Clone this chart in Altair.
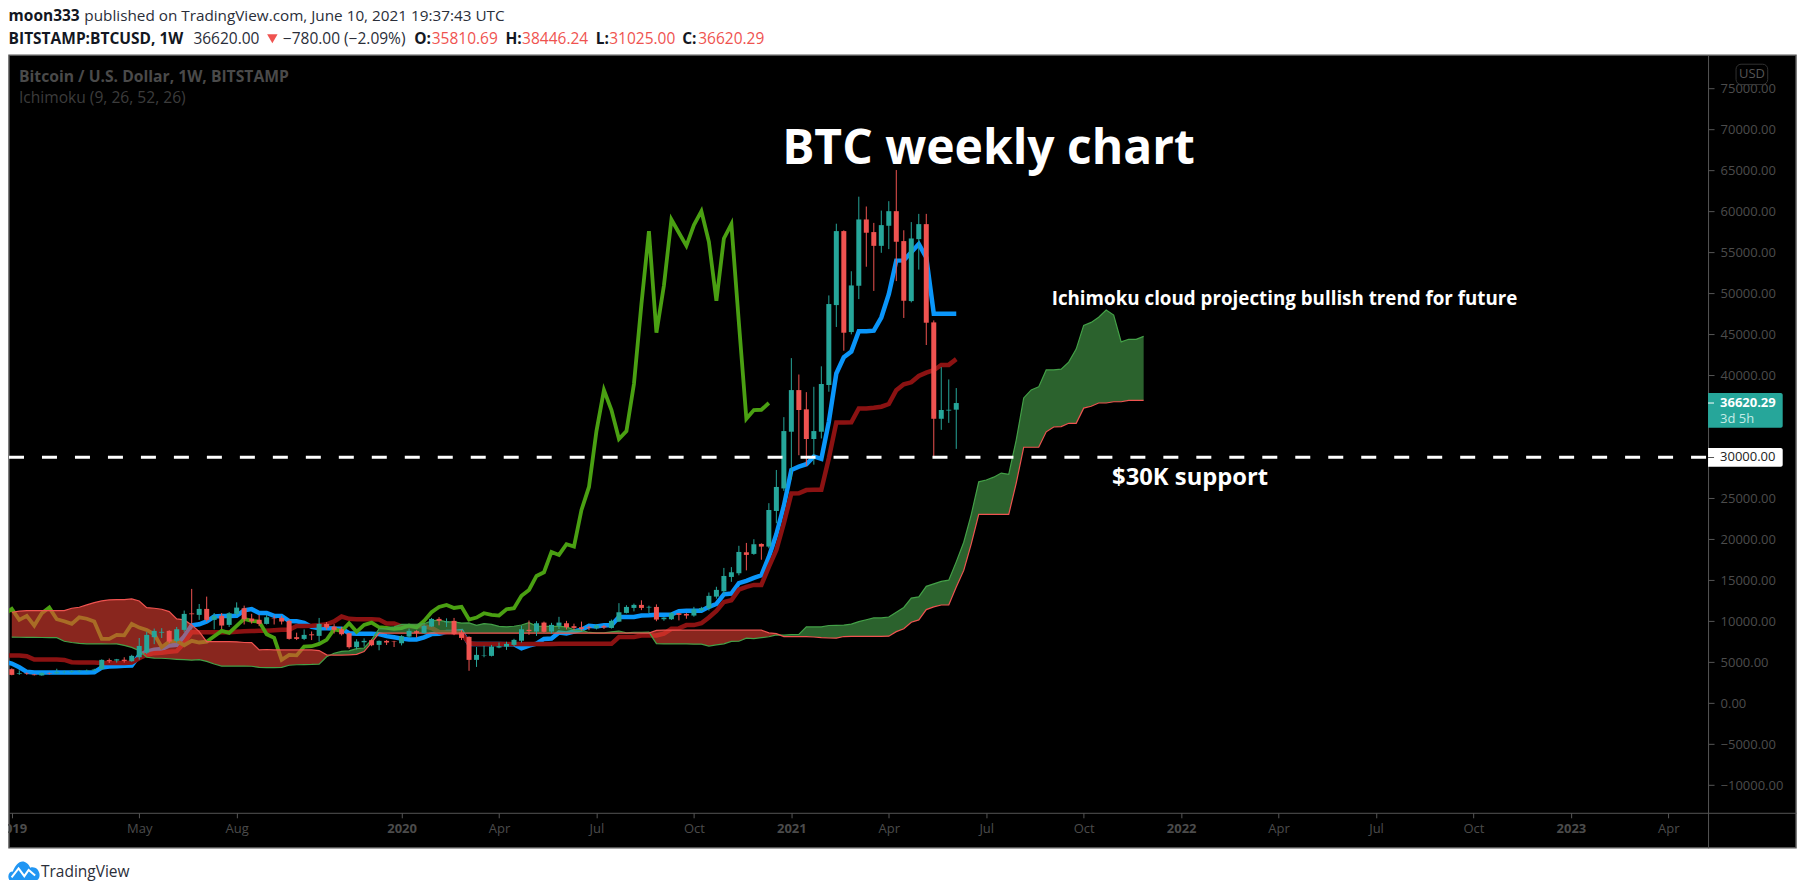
import altair as alt
import pandas as pd

OPEN = [4146,3600,3620,3500,3380,3620,3640,3780,3810,3880,3950,3980,4146,5250,5200,5300,5120,5600,6170,8050,8600,8820,7600,8940,10950,10770,11500,10160,10650,9550,10890,11580,10320,10160,9670,10350,10400,10040,8050,7840,8400,8210,9670,9350,9020,8530,6830,7430,7680,7110,7600,7550,7310,8120,8780,8530,9350,10280,9880,10040,8620,8080,5280,5780,5770,6790,6900,7110,7600,8950,8730,9830,8730,9430,9750,9390,9260,9260,9150,9390,9180,9950,11010,11620,11990,11670,11740,10240,10240,10970,10890,10690,11340,11580,13000,13650,15400,15850,18410,18210,19430,19100,23450,26200,33120,38200,35850,32230,33120,38820,48570,57600,45280,50930,59020,57480,55800,58250,60030,56380,49060,56620,58450,46460,34700,35700,35810]
HIGH = [4250,4000,3750,3560,3750,3750,4200,3950,4000,4000,4100,4200,5350,5450,5400,5600,5900,7950,8700,9100,9150,8900,9300,11300,13940,12100,13000,11000,11000,11100,12300,11900,10900,10800,10800,10700,10650,10200,8600,9000,8750,10400,9900,9650,9300,8600,7800,7900,7800,7650,7700,7600,8300,9100,8900,9600,10400,10500,10350,10400,8950,8150,6850,7000,7100,7400,7500,7850,9450,10080,10000,9950,9800,10530,10040,9700,9950,9450,9650,9550,10200,12200,11950,12150,12550,11900,12050,10500,11100,11000,11000,11750,11750,13500,14200,16500,16600,19200,19550,20000,19500,24400,28450,34900,42100,40100,37950,38600,41100,49750,58500,57700,52700,61800,60600,58600,60100,61250,65050,57700,58700,59700,59700,46700,41000,39500,38446]
LOW = [3400,3450,3450,3380,3350,3500,3600,3650,3700,3750,3850,3950,4050,4900,4950,4950,5050,5300,6000,7200,7950,7300,7400,8700,9700,10160,9950,9000,9050,9300,10600,9600,9700,9400,9600,9600,9600,7750,7700,7700,7700,7500,8950,8500,8250,6650,6550,6900,6950,6450,7100,6850,7050,7950,8000,8500,9300,9500,9300,8300,7700,3950,4420,5600,5700,6700,6500,6950,7400,8330,8200,8600,8500,9050,9000,8900,8850,8900,9000,9050,9100,9900,10950,11200,11350,11000,10000,10050,10150,10100,10300,10550,11200,11300,12750,13250,14800,15600,16200,18100,17500,18900,21950,25900,27300,30250,28950,29100,32300,38000,45900,43000,45000,49300,53250,50300,54950,55400,51500,47000,48900,52900,43700,30000,33350,34200,31025]
CLOSE = [3450,3680,3550,3420,3700,3560,3780,3820,3880,3950,3980,4100,5280,5120,5350,5150,5770,6980,8330,8820,8700,7520,9020,10890,10850,11500,10160,10650,9470,10970,11660,10240,9990,9670,10480,10300,9960,7840,7840,8330,8280,9670,9220,8940,8410,6830,7520,7600,7070,7600,7400,7500,8170,8820,8580,9430,10280,10040,9950,8410,7960,5280,5890,5830,6900,6950,7230,7720,9020,8790,9750,8700,9550,9830,9260,9180,9060,9160,9470,9230,10040,11090,11740,11990,11620,11750,10200,10440,10970,10770,10690,11460,11580,13090,13820,15520,15970,18450,18090,19390,19100,23570,26380,33200,38200,35770,32230,33200,38940,48700,57600,45200,50970,59020,57400,55800,58330,60030,56300,49100,56700,58450,46420,34700,35770,35800,36620]
TENKAN = [5050,4830,4380,3820,3730,3730,3730,3730,3730,3730,3730,3730,3780,4350,4470,4510,4550,4590,5850,6275,6525,6600,7025,7125,8125,9500,9620,9970,10570,10620,10620,10670,11320,11470,11000,11000,10650,10650,10025,10000,9800,9300,9150,9150,9100,9075,8525,8475,8475,8475,8425,8175,8050,7875,7775,7775,8025,8425,8475,8675,8675,8775,7225,7225,7225,7225,7225,7175,7175,6700,7015,7250,7840,7890,8615,8515,8740,8965,9430,9365,9515,9515,10525,10525,10525,10700,10725,10775,10800,10825,11225,11275,11275,11275,11750,12100,13275,13375,14650,14925,15275,15600,17850,20600,24075,28450,28850,29150,30100,29800,34325,40225,42200,42900,45375,45375,45450,47050,49900,54000,54025,55025,56025,54375,47525,47525,47525,47525]
KIJUN = [5810,5810,5810,5730,5320,5320,5320,5320,5280,5000,4950,4950,4950,4900,4900,4900,4900,4950,5480,5900,6100,6150,6265,6340,7340,8660,8645,8645,8645,8645,8645,8720,8770,8795,8820,8845,8895,8945,8970,9420,9420,9445,9495,9620,9970,10570,10295,10245,10245,10245,10195,9725,9725,9375,9375,9375,9375,9175,8675,8625,8625,8575,7300,7225,7225,7225,7225,7225,7225,7225,7225,7225,7225,7225,7240,7240,7240,7240,7240,7240,7240,7240,8075,8075,8075,8250,8250,8250,8485,9075,9125,9525,9525,9750,10450,11265,12350,12550,13850,14200,14425,14425,16625,18675,21950,25575,25600,26000,26050,26050,29875,34250,34250,34275,35950,35950,36050,36175,36500,38175,38900,39150,39925,40325,40625,41275,41275,41975]
CHIKOU = [10850,11500,10160,10650,9470,10970,11660,10240,9990,9670,10480,10300,9960,7840,7840,8330,8280,9670,9220,8940,8410,6830,7520,7600,7070,7600,7400,7500,8170,8820,8580,9430,10280,10040,9950,8410,7960,5280,5890,5830,6900,6950,7230,7720,9020,8790,9750,8700,9550,9830,9260,9180,9060,9160,9470,9230,10040,11090,11740,11990,11620,11750,10200,10440,10970,10770,10690,11460,11580,13090,13820,15520,15970,18450,18090,19390,19100,23570,26380,33200,38200,35770,32230,33200,38940,48700,57600,45200,50970,59020,57400,55800,58330,60030,56300,49100,56700,58450,46420,34700,35770,35800,36620]
SPAN_A = [8045,8040,8030,8020,8010,8005,8000,7550,7400,7300,7240,7230,7230,7220,7230,7050,6800,6400,5600,5500,5480,5420,5350,5300,5250,5320,5095,4775,4525,4525,4525,4525,4505,4365,4340,4340,4365,4625,4685,4705,4725,4770,5665,6090,6310,6375,6645,6730,7730,9080,9130,9310,9610,9630,9630,9695,10045,10130,9910,9920,9770,9800,9500,9710,9610,9370,9320,9385,9535,9820,9410,9360,9360,9360,9310,8950,8890,8625,8575,8575,8700,8800,8575,8650,8650,8675,7260,7225,7225,7225,7225,7200,7200,6960,7120,7235,7530,7555,7930,7880,7990,8100,8335,8300,8380,8380,9300,9300,9300,9475,9490,9510,9640,9950,10175,10400,10400,10510,11100,11680,12810,12960,14250,14560,14850,15010,17240,19640,23010,27010,27225,27575,28075,27925,32100,37240,38225,38590,40660,40660,40750,41610,43200,46090,46460,47090,47975,47350,44075,44400,44400,44750]
SPAN_B = [11090,11220,11300,11300,11300,11300,11300,11300,11580,11700,11990,12270,12470,12600,12640,12640,12720,12470,11660,11580,11460,11170,10280,10160,9550,8730,7515,7515,7515,7500,7480,7400,7395,6500,6550,6500,6500,6500,6500,6500,6500,6420,5890,5850,5870,5900,5950,6300,7400,8540,8540,8540,8540,8540,8540,8540,8540,8540,8540,8540,8540,8540,8540,8540,8540,8540,8540,8540,8540,8540,8540,8540,8540,8540,8540,8540,8540,8540,8540,8540,8540,8540,8540,8540,8540,8540,8870,8900,8900,8900,8900,8900,8900,8900,8900,8900,8900,8900,8900,8900,8900,8575,8490,8125,8125,8125,8125,8075,8000,7950,7925,8130,8150,8150,8150,8150,8150,8170,8725,9075,9870,10160,11420,11750,11975,11975,14175,16200,19425,23025,23025,23025,23025,23025,26850,31225,31225,31225,33110,33700,33750,34150,34150,36000,36225,36625,36625,36775,36775,36950,36950,36950]
TICK_WEEKS = [0,17,30,52,65,78,91,104,117,130,143,156,169,182,195,208,221]
TICK_TEXT = ["2019","May","Aug","2020","Apr","Jul","Oct","2021","Apr","Jul","Oct","2022","Apr","Jul","Oct","2023","Apr"]
YEAR_WEEKS = [0,52,104,156,208]
PRICE_TICKS = [75000,70000,65000,60000,55000,50000,45000,40000,25000,20000,15000,10000,5000,0,-5000,-10000]

FONT = "Open Sans"
TEAL = "#26a69a"
RED = "#ef5350"
DIM = "#4c4c4c"

xs = alt.Scale(domain=[-0.373, 238.03], nice=False, zero=False, padding=0)
ys = alt.Scale(domain=[-17646, 79060], nice=False, zero=False)

label_lookup = "[" + ",".join(f"'{t}'" for t in TICK_TEXT) + "][indexof(" + str(TICK_WEEKS) + ",datum.value)]"
x_axis = alt.Axis(
    orient="bottom", offset=-35, values=TICK_WEEKS, labelExpr=label_lookup, title=None, grid=False,
    domainColor="#555555", tickColor="#555555", tickSize=5, labelColor=DIM, labelFont=FONT, labelFontSize=13,
    labelPadding=5, labelOverlap=False, labelFlush=False,
    labelFontWeight={"condition": {"test": f"indexof({YEAR_WEEKS},datum.value)>=0", "value": "bold"}, "value": "normal"},
)
y_axis = alt.Axis(
    orient="right", offset=-88, values=PRICE_TICKS, format=".2f", title=None, grid=False,
    domainColor="#555555", tickColor="#555555", tickSize=6, labelColor=DIM, labelFont=FONT, labelFontSize=13,
    labelPadding=6, labelOverlap=False, labelFlush=False,
)
X = lambda f="i": alt.X(f"{f}:Q", scale=xs, title=None, axis=x_axis)
Y = lambda f: alt.Y(f"{f}:Q", scale=ys, title=None, axis=y_axis)

weeks = list(range(len(CLOSE)))
candles = pd.DataFrame({"i": weeks, "o": OPEN, "h": HIGH, "l": LOW, "c": CLOSE})
candles["dir"] = ["up" if c >= o else "down" for o, c in zip(OPEN, CLOSE)]
dir_color = alt.Color("dir:N", scale=alt.Scale(domain=["up", "down"], range=[TEAL, RED]), legend=None)

rows = []
for k in range(len(SPAN_A)):
    a, b = SPAN_A[k], SPAN_B[k]
    rows.append({"i": k, "a": a, "b": b})
    if k + 1 < len(SPAN_A):
        a2, b2 = SPAN_A[k + 1], SPAN_B[k + 1]
        if (a - b) * (a2 - b2) < 0:
            t = (a - b) / ((a - b) - (a2 - b2))
            v = a + t * (a2 - a)
            rows.append({"i": k + t, "a": v, "b": v})
cloud = pd.DataFrame(rows)
cloud["low"] = cloud[["a", "b"]].min(axis=1)


def line(values, start, color, width):
    df = pd.DataFrame({"i": [start + k for k in range(len(values))], "v": values})
    return alt.Chart(df).mark_line(color=color, strokeWidth=width, interpolate="linear", clip=True).encode(x=X(), y=Y("v"))


def px_text(text, x, y, color, size, weight="normal", align="left", font=FONT):
    return alt.Chart(alt.Data(values=[{"t": text}])).mark_text(
        color=color, fontSize=size, fontWeight=weight, align=align, baseline="middle", font=font
    ).encode(x=alt.value(x - 9), y=alt.value(y - 55), text="t:N")


def px_rect(x, x2, y, y2, fill, **kw):
    return alt.Chart(alt.Data(values=[{"a": 1}])).mark_rect(fill=fill, **kw).encode(
        x=alt.value(x - 9), x2=alt.value(x2 - 9), y=alt.value(y - 55), y2=alt.value(y2 - 55)
    )


def data_text(text, i, price, size, weight="bold"):
    return alt.Chart(pd.DataFrame({"t": [text], "i": [i], "p": [price]})).mark_text(
        color="white", fontSize=size, fontWeight=weight, font=FONT, baseline="middle", align="center"
    ).encode(x=X(), y=Y("p"), text="t:N")


tenkan = line(TENKAN, -1, "#0a96fa", 4.5)
kijun = line(KIJUN, -1, "#8b1212", 4.5)
chikou = line(CHIKOU, -1, "#4aa012", 3.8)

red_cloud = alt.Chart(cloud).mark_area(color="#f44336", opacity=0.56).encode(x=X(), y=Y("b"), y2="low:Q")
green_cloud = alt.Chart(cloud).mark_area(color="#4caf50", opacity=0.56).encode(x=X(), y=Y("a"), y2="low:Q")
span_a = line(SPAN_A, 0, "#43a047", 1.2)
span_b = line(SPAN_B, 0, "#ef5350", 1.2)

wicks = alt.Chart(candles).mark_rule(strokeWidth=1).encode(x=X(), y=Y("l"), y2="h:Q", color=dir_color)
bodies = alt.Chart(candles).mark_bar(size=5, minBandSize=2).encode(x=X(), y=Y("o"), y2="c:Q", color=dir_color)

support = alt.Chart(pd.DataFrame({"i": [-0.373], "i2": [226.3], "p": [30000]})).mark_rule(
    color="white", strokeWidth=3, strokeDash=[15, 18]
).encode(x=X(), x2="i2:Q", y=Y("p"))

LOGO_CLOUD = "M-.95 .6 C-1.1 .3 -.95 .05 -.72 .05 C-.6 -.3 -.35 -.6 -.1 -.6 C.1 -.6 .3 -.45 .4 -.2 C.7 -.3 .95 -.1 1 .2 C1.03 .4 .95 .55 .85 .6 Z"
LOGO_LINE = "M-.8 .42 L-.35 -.15 L.02 .35 L.3 -.05 L.72 .3"
logo_a = alt.Chart(alt.Data(values=[{"a": 1}])).mark_point(shape=LOGO_CLOUD, filled=True, fill="#2196f3", size=961, opacity=1, stroke=None).encode(x=alt.value(24 - 9), y=alt.value(871 - 55))
logo_b = alt.Chart(alt.Data(values=[{"a": 1}])).mark_point(shape=LOGO_LINE, filled=False, stroke="white", strokeWidth=2, size=961, opacity=1).encode(x=alt.value(24 - 9), y=alt.value(871 - 55))
triangle = alt.Chart(alt.Data(values=[{"a": 1}])).mark_point(shape="triangle-down", filled=True, fill=RED, size=110, opacity=1, stroke=None).encode(x=alt.value(272.5 - 9), y=alt.value(38.5 - 55))

layers = [
    tenkan, kijun, chikou, red_cloud, green_cloud, span_a, span_b, wicks, bodies, support,
    data_text("BTC weekly chart", 130.3, 67450, 48),
    data_text("Ichimoku cloud projecting bullish trend for future", 169.8, 49310, 18.8),
    data_text("$30K support", 157.2, 27480, 23.8),
    px_text("Bitcoin / U.S. Dollar, 1W, BITSTAMP", 19, 76.7, "#4a4a4a", 15.7, "bold"),
    px_text("Ichimoku (9, 26, 52, 26)", 19, 98, "#3c3c3c", 15.6),
    px_rect(1709, 1783.7, 393, 427.7, TEAL, cornerRadiusTopRight=2, cornerRadiusBottomRight=2),
    px_rect(1709, 1715, 402.5, 403.5, "white"),
    px_text("36620.29", 1721, 402.7, "white", 13, "bold"),
    px_text("3d 5h", 1721, 419, "#c4ece7", 13),
    px_rect(1709, 1783.7, 448, 466.7, "white", cornerRadiusTopRight=2, cornerRadiusBottomRight=2),
    px_rect(1709, 1715, 457, 458, "#555555"),
    px_text("30000.00", 1721, 457.3, "#222222", 13),
    px_rect(1737, 1768.7, 64, 84.3, "black", stroke="#3a3a3a", strokeWidth=1, cornerRadius=5, opacity=0.85),
    px_text("USD", 1753, 74, "#555555", 13, align="center"),
    px_text("moon333", 8.6, 16.2, "#131722", 15.5, "bold"),
    px_text("published on TradingView.com, June 10, 2021 19:37:43 UTC", 84.4, 16.2, "#2a2e39", 15.3),
    px_text("BITSTAMP:BTCUSD, 1W", 8.6, 38.7, "#131722", 15.5, "bold"),
    px_text("36620.00", 193.5, 38.7, "#2a2e39", 15.5),
    triangle,
    px_text("\u2212780.00 (\u22122.09%)", 283, 38.7, "#2a2e39", 15.5),
    px_text("O:", 414.5, 38.7, "#131722", 15.5, "bold"),
    px_text("35810.69", 432, 38.7, RED, 15.5),
    px_text("H:", 505.7, 38.7, "#131722", 15.5, "bold"),
    px_text("38446.24", 522.4, 38.7, RED, 15.5),
    px_text("L:", 596, 38.7, "#131722", 15.5, "bold"),
    px_text("31025.00", 609.6, 38.7, RED, 15.5),
    px_text("C:", 682.6, 38.7, "#131722", 15.5, "bold"),
    px_text("36620.29", 698.6, 38.7, RED, 15.5),
    logo_a, logo_b,
    px_text("TradingView", 41, 872, "#2a2e39", 15.5),
]

chart = alt.layer(*layers).properties(
    width=1788, height=793,
    autosize=alt.AutoSizeParams(type="none"),
    padding={"left": 1, "top": 47, "right": 1, "bottom": 35},
    background="white",
).configure_view(fill="black", stroke="#555555", strokeWidth=1.5)

chart.save("out.html", embed_options={"renderer": "svg", "actions": False})
